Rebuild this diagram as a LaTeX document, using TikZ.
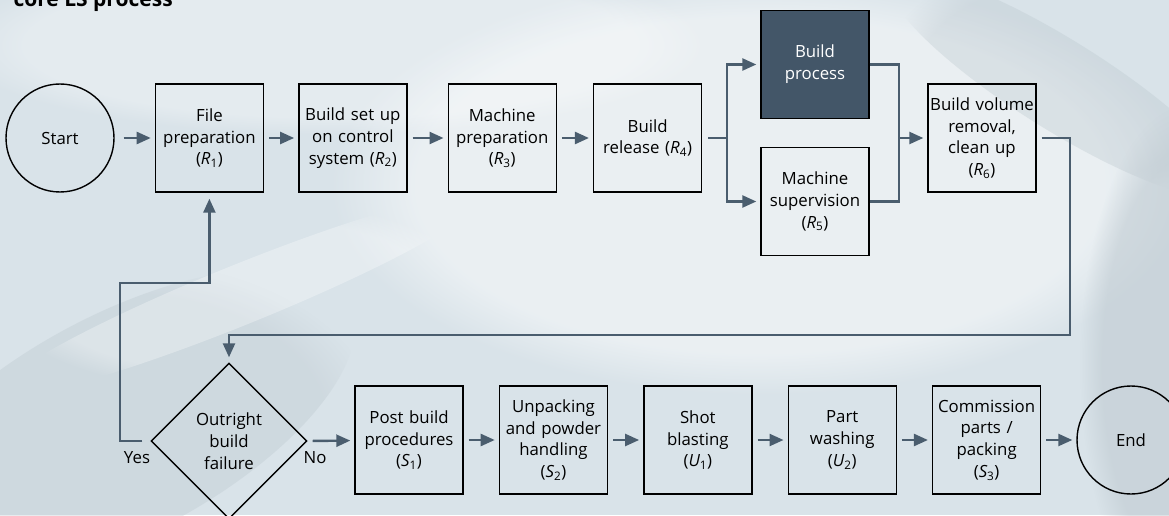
\documentclass[tikz,border=0pt]{standalone}
\usepackage{fontspec}
\setmainfont{Open Sans}
\usetikzlibrary{shapes.geometric,positioning,arrows.meta,fadings}
\definecolor{flowblue}{HTML}{4A5D6E}
\definecolor{darkslate}{HTML}{435668}
\definecolor{bgblue}{HTML}{D9E3E9}
\definecolor{bggrey}{HTML}{BCC7CE}
\newcommand{\stepsub}[2]{({\itshape #1}\textsubscript{#2})}

\begin{document}
\begin{tikzpicture}
  [x=1pt,y=1pt,node distance=36pt,
   font=\fontsize{16.8}{21.8}\selectfont,
   stepBox/.style={draw,line width=1.4pt,minimum width=108pt,minimum height=108pt,
                   text width=107pt,align=center,inner sep=0pt},
   darkBox/.style={stepBox,fill=darkslate,text=white},
   termN/.style={draw,circle,line width=1.4pt,minimum size=108pt,inner sep=0pt},
   decN/.style={draw,diamond,line width=1.4pt,minimum width=156pt,minimum height=156pt,
                inner sep=0pt,align=center},
   flow/.style={draw=flowblue,line width=2.4pt,-{Triangle[length=14pt,width=12pt]},
                shorten <=5pt,shorten >=4pt},
   link/.style={draw=flowblue,line width=2.4pt},
   haze/.style={path fading=circle with fuzzy edge 20 percent},
  ]

 \useasboundingbox (0,0) rectangle (1169,515);
 \clip (0,0) rectangle (1169,515);

 % background
 \fill[bgblue] (0,0) rectangle (1169,515);
 \fill[white,fill opacity=0.45,haze] (760,330) ellipse (430 and 210);
 \fill[white,fill opacity=0.3,haze] (330,470) ellipse (380 and 90);
 \fill[bggrey,fill opacity=0.35,haze,rotate around={-32:(1060,430)}] (1060,430) ellipse (200 and 45);
 \fill[bggrey,fill opacity=0.5,haze] (1190,150) ellipse (110 and 260);
 \fill[bggrey,fill opacity=0.35,haze,rotate around={28:(120,90)}] (120,90) ellipse (260 and 110);
 \fill[white,fill opacity=0.3,haze,rotate around={22:(240,220)}] (240,220) ellipse (260 and 30);

 \node[font=\fontsize{21}{21}\bfseries\selectfont,anchor=base west] (title) at (10,508) {core LS process};

 % top row
 \node[termN] (start) at (60,377) {Start};
 \node[stepBox,right=40pt of start] (R1) {File\\preparation\\\stepsub{R}{1}};
 \node[stepBox,right=34pt of R1] (R2) {Build set up\\on control\\system \stepsub{R}{2}};
 \node[stepBox,right=40pt of R2] (R3) {Machine\\preparation\\\stepsub{R}{3}};
 \node[stepBox,right=36pt of R3] (R4) {Build\\release \stepsub{R}{4}};
 \node[darkBox] (BP) at (815,450.5) {Build\\process};
 \node[stepBox] (MS) at (815,313.5) {Machine\\supervision\\\stepsub{R}{5}};
 \node[stepBox] (R6) at (982,377) {Build volume\\removal,\\clean up\\\stepsub{R}{6}};

 % bottom row
 \node[decN] (fail) at (229,74) {Outright\\build\\failure};
 \node[stepBox] (S1) at (409,75) {Post build\\procedures\\\stepsub{S}{1}};
 \node[stepBox,right=35pt of S1] (S2) {Unpacking\\and powder\\handling\\\stepsub{S}{2}};
 \node[stepBox,right=35pt of S2] (U1) {Shot\\blasting\\\stepsub{U}{1}};
 \node[stepBox,right=35pt of U1] (U2) {Part\\washing\\\stepsub{U}{2}};
 \node[stepBox,right=35pt of U2] (S3) {Commission\\parts /\\packing\\\stepsub{S}{3}};
 \node[termN,right=35pt of S3] (end) {End};

 \node (yes) at (137,57) {Yes};
 \node (no) at (315,57) {No};

 \coordinate (split) at (727,377);
 \coordinate (merge) at (899,377);
 \coordinate (back) at (1070,180);
 \coordinate (loop) at (120,232);

 \draw[flow,shorten <=9pt] (start) -- (R1);
 \foreach \a/\b in {R1/R2,R2/R3,R3/R4,S1/S2,S2/U1,U1/U2,U2/S3,S3/end}
   \draw[flow] (\a) -- (\b);
 \draw[link,shorten <=6pt] (R4) -- (split);
 \draw[flow,shorten <=0pt] (split) |- (BP);
 \draw[flow,shorten <=0pt] (split) |- (MS);
 \draw[link] (BP) -| (merge) |- (MS);
 \draw[flow,shorten <=0pt] (merge) -- (R6);
 \draw[flow,shorten >=5pt] (R6) -| (back) -| (fail.north);
 \draw[flow,shorten <=8pt,shorten >=6pt] (fail.west) -| (loop) -| (R1.south);
 \draw[flow] (fail.east) -- (S1);

\end{tikzpicture}
\end{document}
